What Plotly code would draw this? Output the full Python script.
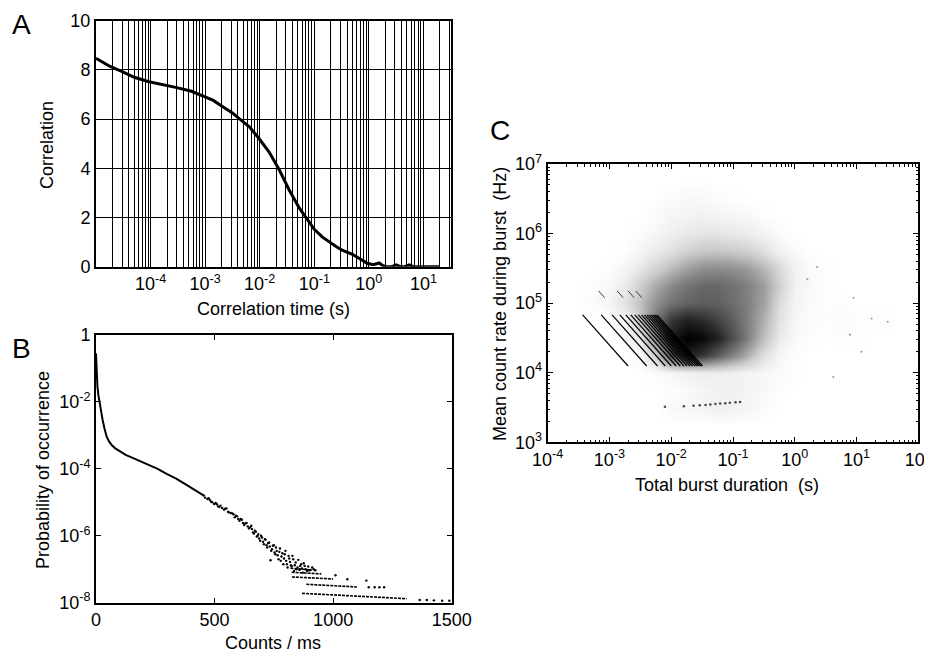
import numpy as np
import plotly.graph_objects as go

FONT = "Liberation Sans, Arial, Helvetica, sans-serif"
W, H = 932, 652
OFF = 8  # page body margin in the browser

# ---------------- Panel A: correlation curve ----------------
corr_log_time = [-5.0, -4.75, -4.52, -4.3, -4.03, -3.75, -3.54, -3.25, -3.05, -2.85, -2.69,
                 -2.5, -2.32, -2.19, -2.01, -1.83, -1.64, -1.46, -1.27, -1.09, -1.0, -0.85,
                 -0.73, -0.6, -0.48, -0.3, -0.15, -0.03, 0.08, 0.19, 0.25, 0.32, 0.42, 0.5,
                 0.58, 0.66, 0.74, 0.82, 0.95, 1.1, 1.3]
correlation = [8.47, 8.15, 7.93, 7.7, 7.52, 7.4, 7.29, 7.13, 6.93, 6.76, 6.52,
               6.25, 5.92, 5.69, 5.2, 4.67, 3.93, 3.12, 2.37, 1.83, 1.52, 1.2,
               1.0, 0.82, 0.66, 0.5, 0.3, 0.14, 0.08, 0.15, 0.05, 0.0, 0.0, 0.07,
               0.0, 0.0, 0.07, 0.0, 0.0, 0.0, 0.0]
a_tick_exp = [-4, -3, -2, -1, 0, 1]

# ---------------- Panel B: count histogram ----------------
b_counts = [0, 3, 6, 10, 14, 20, 28, 36, 45, 55, 66, 80, 100, 125, 157, 190, 228, 260, 298,
            340, 380, 420, 455]
b_log_prob = [-0.55, -1.2, -1.54, -1.8, -1.99, -2.25, -2.54, -2.8, -3.04, -3.18, -3.29,
              -3.38, -3.48, -3.58, -3.68, -3.78, -3.88, -4.0, -4.15, -4.3, -4.47, -4.64, -4.8]
b_tail_counts = [455, 470, 480, 490, 505, 515, 525, 540, 550, 560, 575, 585, 595, 605, 615,
                 625, 635, 645, 655, 662, 670, 678, 685, 692, 700, 708, 715, 722, 730, 736,
                 742, 750, 756, 762, 770, 776, 782, 790, 796, 802, 808, 815, 822, 828, 835,
                 842, 850, 858, 865, 872, 880, 890, 900, 912, 925, 1010, 1060, 1140,
                 1150, 1175, 1195, 1215, 1365, 1395, 1425, 1460, 1490,
                 460, 475, 485, 498, 510, 520, 532, 545, 557, 568, 580, 590, 600, 610, 620,
                 630, 640, 650, 658, 666, 674, 682, 688, 696, 704, 712, 719, 726, 733, 739,
                 746, 753, 759, 766, 773, 779, 786, 793, 799, 805, 812, 818, 825, 832, 838,
                 845, 853, 861, 868, 876, 884, 895, 905, 918]
b_tail_log_prob = [-4.80, -4.90, -4.93, -5.00, -5.02, -5.12, -5.10, -5.22, -5.18, -5.30, -5.33,
                   -5.45, -5.42, -5.55, -5.52, -5.68, -5.62, -5.78, -5.70, -5.90, -5.85, -6.02,
                   -5.95, -6.15, -6.05, -6.25, -6.12, -6.35, -6.20, -6.73, -6.40, -6.28, -6.55,
                   -6.45, -6.70, -6.38, -6.62, -6.85, -6.55, -6.75, -6.95, -6.68, -6.88, -6.60,
                   -7.05, -6.80, -6.95, -7.02, -6.85, -7.10, -6.90, -7.05, -7.03, -6.95, -7.03,
                   -7.18, -7.30, -7.34, -7.54, -7.54, -7.54, -7.54, -7.92, -7.92, -7.93, -7.94, -7.94,
                   -4.86, -4.88, -4.98, -5.05, -5.06, -5.14, -5.17, -5.19, -5.28, -5.32, -5.36,
                   -5.40, -5.50, -5.50, -5.62, -5.63, -5.72, -5.75, -5.80, -5.93, -5.88, -6.00,
                   -6.08, -6.00, -6.18, -6.10, -6.28, -6.22, -6.32, -6.45, -6.30, -6.50, -6.35,
                   -6.58, -6.48, -6.75, -6.52, -6.68, -6.45, -6.85, -6.60, -6.78, -6.92, -6.70,
                   -6.88, -7.00, -6.72, -6.90, -6.98, -6.82, -7.00, -6.92, -7.02, -7.00]
# quantised low-probability rows: (start count, end count, start log p, end log p)
b_level_start = [869, 887, 826, 825, 820]
b_level_end = [1310, 1100, 1000, 950, 905]
b_level_logp_start = [-7.72, -7.45, -7.23, -7.09, -6.97]
b_level_logp_end = [-7.88, -7.53, -7.29, -7.14, -7.02]
b_tick_exp = [-8, -6, -4, -2, 0]

# ---------------- Panel C: burst duration vs count rate ----------------
c_log_dur_centers = [-3.5, -3.25, -3.0, -2.75, -2.5, -2.25, -2.0, -1.75, -1.5, -1.25, -1.0,
                     -0.75, -0.5, -0.25, 0.0, 0.25, 0.5, 0.75, 1.0, 1.25, 1.5]
c_log_rate_centers = [3.25, 3.5, 3.75, 4.0, 4.25, 4.5, 4.75, 5.0, 5.25, 5.5, 5.75, 6.0, 6.25,
                      6.5, 6.75]
c_density = [
    [0, 0, 0, 0, 0, 0, 0, 0, 0, 0, 0, 0, 0, 0, 0, 0, 0, 0, 0, 0, 0],
    [0, 0, 0, 0, 0, 0, 0.03, 0.04, 0.05, 0.07, 0.06, 0.04, 0.02, 0, 0, 0, 0, 0, 0, 0, 0],
    [0, 0, 0, 0, 0, 0, 0.01, 0.02, 0.04, 0.06, 0.07, 0.05, 0.03, 0.01, 0, 0, 0, 0, 0, 0, 0],
    [0, 0, 0, 0, 0, 0.02, 0.04, 0.06, 0.08, 0.08, 0.07, 0.05, 0.04, 0.02, 0.01, 0, 0, 0, 0, 0, 0],
    [0, 0, 0, 0, 0.03, 0.22, 0.7, 0.88, 0.8, 0.65, 0.5, 0.33, 0.14, 0.04, 0.01, 0, 0, 0, 0, 0, 0],
    [0, 0, 0, 0.02, 0.1, 0.5, 0.9, 1.0, 0.97, 0.88, 0.7, 0.5, 0.28, 0.09, 0.03, 0.01, 0, 0.01, 0.01, 0, 0],
    [0, 0, 0, 0.04, 0.25, 0.55, 0.8, 0.88, 0.84, 0.75, 0.64, 0.5, 0.33, 0.13, 0.04, 0.02, 0.01, 0.02, 0.01, 0.01, 0.01],
    [0, 0.02, 0.05, 0.13, 0.28, 0.45, 0.56, 0.62, 0.64, 0.63, 0.58, 0.5, 0.38, 0.16, 0.05, 0.02, 0.01, 0.01, 0, 0, 0],
    [0, 0.01, 0.03, 0.09, 0.22, 0.36, 0.47, 0.55, 0.6, 0.6, 0.56, 0.5, 0.4, 0.21, 0.06, 0.03, 0.01, 0, 0, 0, 0],
    [0, 0, 0.01, 0.04, 0.11, 0.2, 0.3, 0.39, 0.45, 0.46, 0.45, 0.4, 0.31, 0.17, 0.06, 0.02, 0.01, 0, 0, 0, 0],
    [0, 0, 0, 0.01, 0.04, 0.09, 0.14, 0.21, 0.25, 0.26, 0.24, 0.21, 0.14, 0.06, 0.02, 0, 0, 0, 0, 0, 0],
    [0, 0, 0, 0, 0.02, 0.04, 0.07, 0.1, 0.12, 0.12, 0.1, 0.08, 0.05, 0.02, 0, 0, 0, 0, 0, 0, 0],
    [0, 0, 0, 0, 0, 0.02, 0.04, 0.05, 0.06, 0.05, 0.04, 0.03, 0.01, 0, 0, 0, 0, 0, 0, 0, 0],
    [0, 0, 0, 0, 0, 0, 0.02, 0.03, 0.03, 0.02, 0.01, 0, 0, 0, 0, 0, 0, 0, 0, 0, 0],
    [0, 0, 0, 0, 0, 0, 0, 0, 0, 0, 0, 0, 0, 0, 0, 0, 0, 0, 0, 0, 0],
]
# constant-photon-number stripes (photons per burst) and their rate span (Hz)
c_stripe_counts = [25, 50, 75, 100, 125, 150, 175, 200, 225, 250, 275, 300, 325, 350, 375, 400]
c_stripe_rate_top = 6.8e4
c_stripe_rate_bottom = 1.25e4
c_upper_stripe_counts = [100, 200, 300, 400]
c_upper_rate_top = 1.5e5
c_upper_rate_bottom = 1.2e5
c_low_dur = [7.9e-3, 1.6e-2, 2.3e-2, 2.9e-2, 3.6e-2, 4.3e-2, 5.2e-2, 6.2e-2, 7.5e-2, 8.9e-2, 0.11, 0.13]
c_low_rate = [3.25e3, 3.3e3, 3.35e3, 3.4e3, 3.45e3, 3.5e3, 3.55e3, 3.6e3, 3.65e3, 3.7e3, 3.75e3, 3.8e3]
c_far_dur = [32.0, 17.6, 7.8, 8.9, 4.2, 2.3, 12.0, 1.6]
c_far_rate = [5.4e4, 6.0e4, 3.5e4, 1.2e5, 8.7e3, 3.3e5, 2.0e4, 2.2e5]
c_tick_exp_x = [-4, -3, -2, -1, 0, 1, 2]
c_tick_exp_y = [3, 4, 5, 6, 7]


def pow_label(e):
    return "10<sup>%d</sup>" % e


def edges(centers):
    c = np.asarray(centers, dtype=float)
    step = c[1] - c[0]
    return np.concatenate([c - step / 2, [c[-1] + step / 2]])


def px(x):
    return (x - OFF) / W


def py(y):
    return 1 - (y - OFF) / H


fig = go.Figure()

# Panel A
fig.add_trace(go.Scatter(x=10 ** np.array(corr_log_time), y=correlation, mode="lines",
                         line=dict(color="black", width=3), xaxis="x", yaxis="y",
                         hoverinfo="skip"))

# Panel B
fig.add_trace(go.Scatter(x=b_counts, y=10 ** np.array(b_log_prob), mode="lines",
                         line=dict(color="black", width=2), xaxis="x2", yaxis="y2"))
fig.add_trace(go.Scatter(x=b_tail_counts, y=10 ** np.array(b_tail_log_prob), mode="markers",
                         marker=dict(color="black", size=2.4), xaxis="x2", yaxis="y2"))
lx, ly = [], []
for s, e, ps, pe in zip(b_level_start, b_level_end, b_level_logp_start, b_level_logp_end):
    lx += [s, e, None]
    ly += [10 ** ps, 10 ** pe, None]
fig.add_trace(go.Scatter(x=lx, y=ly, mode="lines", line=dict(color="black", width=1.6, dash="3px,1px"),
                         xaxis="x2", yaxis="y2"))

# Panel C
fig.add_trace(go.Heatmap(x=10 ** edges(c_log_dur_centers), y=10 ** edges(c_log_rate_centers),
                         z=c_density, zmin=0, zmax=1, zsmooth="best", showscale=False,
                         colorscale=[[0, "rgb(255,255,255)"], [0.25, "rgb(200,200,200)"],
                                     [0.5, "rgb(130,130,130)"], [0.75, "rgb(65,65,65)"],
                                     [1, "rgb(0,0,0)"]],
                         xaxis="x3", yaxis="y3", hoverinfo="skip"))
sx, sy = [], []
for c in c_stripe_counts:
    sx += [c / c_stripe_rate_top, c / c_stripe_rate_bottom, None]
    sy += [c_stripe_rate_top, c_stripe_rate_bottom, None]
fig.add_trace(go.Scatter(x=sx, y=sy, mode="lines", line=dict(color="black", width=1.2),
                         xaxis="x3", yaxis="y3"))
ux, uy = [], []
for c in c_upper_stripe_counts:
    ux += [c / c_upper_rate_top, c / c_upper_rate_bottom, None]
    uy += [c_upper_rate_top, c_upper_rate_bottom, None]
fig.add_trace(go.Scatter(x=ux, y=uy, mode="lines", line=dict(color="rgb(60,60,60)", width=1),
                         xaxis="x3", yaxis="y3"))
fig.add_trace(go.Scatter(x=c_low_dur, y=c_low_rate, mode="markers",
                         marker=dict(color="rgb(70,70,70)", size=2.5), xaxis="x3", yaxis="y3"))
fig.add_trace(go.Scatter(x=c_far_dur, y=c_far_rate, mode="markers",
                         marker=dict(color="rgb(150,150,150)", size=2), xaxis="x3", yaxis="y3"))

tickfont = dict(family=FONT, size=18, color="black")
minor_vals_a = [k * 10.0 ** e for e in range(-5, 2) for k in range(2, 10)]
minor_vals_c = [k * 10.0 ** e for e in range(-4, 2) for k in range(2, 10)]
minor_vals_cy = [k * 10.0 ** e for e in range(3, 7) for k in range(2, 10)]

fig.update_layout(
    width=W, height=H, margin=dict(l=0, r=0, t=0, b=0, autoexpand=False),
    paper_bgcolor="white", plot_bgcolor="white", showlegend=False,
    font=dict(family=FONT, size=18, color="black"),
    xaxis=dict(domain=[px(96), px(450.7)], anchor="y", type="log", range=[-5.0, 1.5],
               tickvals=[10.0 ** e for e in a_tick_exp], ticktext=[pow_label(e) for e in a_tick_exp],
               ticks="", showgrid=True, gridcolor="black", gridwidth=1,
               minor=dict(tickvals=minor_vals_a, showgrid=True, gridcolor="black", gridwidth=1, ticks=""),
               showline=True, mirror=True, linecolor="black", linewidth=2, zeroline=False,
               tickfont=tickfont, automargin=False),
    yaxis=dict(domain=[py(266.7), py(20.7)], anchor="x", range=[0, 10], dtick=2,
               ticks="", showgrid=True, gridcolor="black", gridwidth=1, zeroline=False,
               showline=True, mirror=True, linecolor="black", linewidth=2, tickfont=tickfont,
               automargin=False),
    xaxis2=dict(domain=[px(96), px(451.7)], anchor="y2", range=[0, 1500],
                tickvals=[0, 500, 1000, 1500], ticks="inside", ticklen=5, tickcolor="black",
                showgrid=False, zeroline=False, showline=True, mirror="ticks",
                linecolor="black", linewidth=2, tickfont=tickfont, automargin=False),
    yaxis2=dict(domain=[py(602.7), py(335)], anchor="x2", type="log", range=[-8, 0],
                tickvals=[10.0 ** e for e in b_tick_exp],
                ticktext=[pow_label(e) if e != 0 else "1" for e in b_tick_exp],
                ticks="inside", ticklen=5, tickcolor="black", showgrid=False, zeroline=False,
                showline=True, mirror="ticks", linecolor="black", linewidth=2, tickfont=tickfont,
                automargin=False),
    xaxis3=dict(domain=[px(547.7), px(918.3)], anchor="y3", type="log", range=[-4, 2],
                tickvals=[10.0 ** e for e in c_tick_exp_x], ticktext=[pow_label(e) for e in c_tick_exp_x],
                ticks="inside", ticklen=5, tickcolor="black",
                minor=dict(tickvals=minor_vals_c, ticks="inside", ticklen=2.5, tickcolor="black", showgrid=False),
                showgrid=False, zeroline=False, showline=True, mirror="ticks",
                linecolor="black", linewidth=2, tickfont=tickfont, automargin=False),
    yaxis3=dict(domain=[py(442.3), py(164)], anchor="x3", type="log", range=[3, 7],
                tickvals=[10.0 ** e for e in c_tick_exp_y], ticktext=[pow_label(e) for e in c_tick_exp_y],
                ticks="inside", ticklen=5, tickcolor="black",
                minor=dict(tickvals=minor_vals_cy, ticks="inside", ticklen=2.5, tickcolor="black", showgrid=False),
                showgrid=False, zeroline=False, showline=True, mirror="ticks",
                linecolor="black", linewidth=2, tickfont=tickfont, automargin=False),
)


def ann(text, x, y, size=18, angle=0):
    fig.add_annotation(text=text, x=px(x), y=py(y), xref="paper", yref="paper",
                       showarrow=False, textangle=angle, xanchor="center", yanchor="middle",
                       font=dict(family=FONT, size=size, color="black"))


ann("A", 21, 25, size=28)
ann("B", 21, 348, size=28)
ann("C", 500, 130, size=28)
ann("Correlation", 47, 145, angle=-90)
ann("Correlation time (s)", 273, 309)
ann("Probability of occurrence", 43, 470, angle=-90)
ann("Counts / ms", 273, 643)
ann("Mean count rate during burst \u00a0(Hz)", 500, 304, angle=-90)
ann("Total burst duration \u00a0(s)", 727, 485)

fig.write_html("out.html")
